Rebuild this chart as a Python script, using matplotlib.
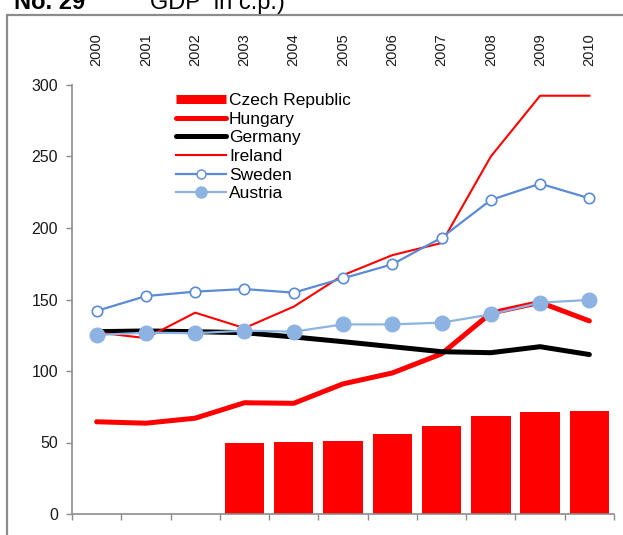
import matplotlib
matplotlib.use("Agg")
import matplotlib.pyplot as plt
from matplotlib.lines import Line2D
from matplotlib.patches import Rectangle

plt.rcParams['font.family'] = ['Liberation Sans', 'DejaVu Sans']

years = ['2000', '2001', '2002', '2003', '2004', '2005',
         '2006', '2007', '2008', '2009', '2010']

# Czech Republic only from 2003 on (bars)
czech = [None, None, None, 50, 50.6, 51.3, 56.2, 61.5, 68.8, 71.1, 71.8]
hungary = [64.5, 63.5, 67, 77.8, 77.4, 91, 98.6, 112, 140.5, 148, 135]
germany = [127.5, 128, 127.5, 126.8, 123.8, 120.5, 117, 113.5, 112.8, 117, 111.5]
ireland = [127, 123, 140.8, 130, 145, 167, 181, 189.5, 250, 292.5, 292.5]
sweden = [142, 152.4, 155.5, 157.3, 154.8, 164.8, 174.6, 193.2, 219.6, 231, 220.8]
austria = [125.2, 126.8, 126.4, 128.2, 127.5, 132.6, 132.6, 133.8, 139.6, 147.8, 149.7]

yticks = [0, 50, 100, 150, 200, 250, 300]

W, H = 623, 535
fig = plt.figure(figsize=(W / 100, H / 100), dpi=100)

# grey outer frame, cut off at right and bottom
fig.patches.append(Rectangle((7 / W, -0.1), 1.2, (H - 15) / H + 0.1,
                             transform=fig.transFigure, fill=False,
                             edgecolor='#8c8c8c', linewidth=1.6))

# title, mostly cut off at top (as in the source)
fig.text(14 / W, (H - 9) / H, 'No. 29', fontsize=17, fontweight='bold',
         va='baseline', ha='left')
fig.text(150 / W, (H - 9) / H, 'GDP  in c.p.)', fontsize=17,
         va='baseline', ha='left')

ax = fig.add_axes([72 / W, 21 / H, 542 / W, 429 / H])
x = list(range(len(years)))

bx = [i for i, v in zip(x, czech) if v is not None]
bv = [v for v in czech if v is not None]
ax.bar(bx, bv, width=0.8, color='#ff0000', zorder=1)

ax.plot(x, hungary, color='#ff0000', lw=3.6, solid_capstyle='round', zorder=2)
ax.plot(x, germany, color='black', lw=3.6, solid_capstyle='round', zorder=3)
ax.plot(x, ireland, color='#ff0000', lw=1.5, zorder=4)
ax.plot(x, sweden, color='#5b8bd4', lw=1.6, marker='o', markersize=7.5,
        markerfacecolor='white', markeredgecolor='#5b8bd4',
        markeredgewidth=1.2, zorder=5)
ax.plot(x, austria, color='#8db3e2', lw=1.6, marker='o', markersize=10.5,
        markerfacecolor='#8db3e2', markeredgecolor='#8db3e2', zorder=6)

ax.set_xlim(-0.5, len(years) - 0.5)
ax.set_ylim(0, 300)
ax.set_yticks(yticks)
ax.set_yticklabels([str(v) for v in yticks])

# year labels on top, boundary ticks at bottom
ax.set_xticks(x)
ax.set_xticklabels(years)
ax.set_xticks([i - 0.5 for i in range(len(years) + 1)], minor=True)
ax.tick_params(axis='x', which='major', length=0, labelbottom=False,
               labeltop=True, labelrotation=90, labelsize=10.5, pad=14,
               labelcolor='#1a1a1a')
ax.tick_params(axis='x', which='minor', length=4, width=1, color='#8c8c8c',
               direction='out', bottom=True)
ax.tick_params(axis='y', length=4, width=1, color='#8c8c8c',
               labelsize=11.5, labelcolor='#1a1a1a', pad=6)

for s in ['top', 'right']:
    ax.spines[s].set_visible(False)
for s in ['left', 'bottom']:
    ax.spines[s].set_color('#8c8c8c')
    ax.spines[s].set_linewidth(1.2)

handles = [
    Line2D([], [], color='#ff0000', lw=6.5, solid_capstyle='butt'),
    Line2D([], [], color='#ff0000', lw=3.6, solid_capstyle='round'),
    Line2D([], [], color='black', lw=3.6, solid_capstyle='round'),
    Line2D([], [], color='#ff0000', lw=1.5),
    Line2D([], [], color='#5b8bd4', lw=1.6, marker='o', markersize=6.5,
           markerfacecolor='white', markeredgecolor='#5b8bd4'),
    Line2D([], [], color='#8db3e2', lw=1.6, marker='o', markersize=8,
           markerfacecolor='#8db3e2', markeredgecolor='#8db3e2'),
]
labels = ['Czech Republic', 'Hungary', 'Germany', 'Ireland', 'Sweden', 'Austria']
ax.legend(handles, labels, loc='upper left',
          bbox_to_anchor=((176 - 72) / 542, (514 - 93) / 429),
          frameon=False, fontsize=12.5, handlelength=2.9, handletextpad=0.15,
          labelspacing=0.2, borderpad=0, borderaxespad=0)

fig.savefig('out.png', dpi=100)
